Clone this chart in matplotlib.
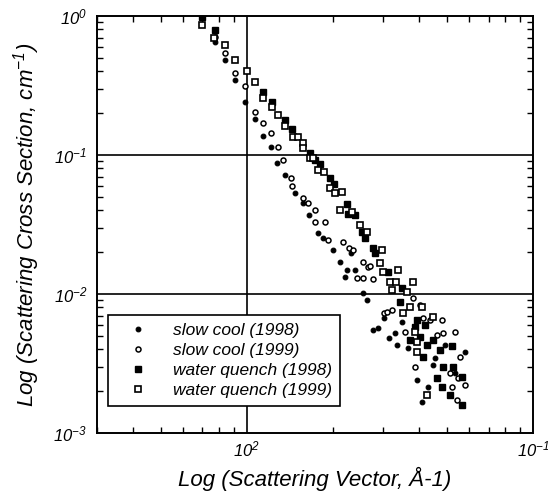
import matplotlib
matplotlib.use('Agg')
from matplotlib import pyplot as plt
from matplotlib.ticker import LogLocator, FixedLocator, NullFormatter

plt.rcParams['font.family'] = ['Liberation Sans', 'DejaVu Sans']
plt.rcParams['font.style'] = 'italic'
plt.rcParams['mathtext.fontset'] = 'custom'
plt.rcParams['mathtext.rm'] = 'Liberation Sans:italic'
plt.rcParams['mathtext.it'] = 'Liberation Sans:italic'

# slow cool (1998) - filled circles
sc98_q = [0.00773, 0.00838, 0.00908, 0.00984, 0.01067, 0.01138, 0.01213, 0.01273,
          0.01358, 0.01472, 0.01570, 0.01647, 0.01771, 0.01844, 0.01999, 0.02115,
          0.0231, 0.0224, 0.02386, 0.02201, 0.0255, 0.0263, 0.0276, 0.0301,
          0.0313, 0.03292, 0.0334, 0.0366, 0.0393, 0.0409, 0.0429, 0.0447,
          0.0513, 0.0565, 0.0578, 0.04543, 0.0492, 0.0534, 0.0348, 0.0287]
sc98_i = [0.650, 0.483, 0.346, 0.241, 0.182, 0.137, 0.114, 0.0876,
          0.0718, 0.0534, 0.0453, 0.0370, 0.0275, 0.0254, 0.0207, 0.0170,
          0.0198, 0.0149, 0.0149, 0.0133, 0.0102, 0.00906, 0.00551, 0.00677,
          0.00482, 0.00525, 0.00430, 0.00410, 0.00240, 0.00167, 0.00214, 0.00308,
          0.00188, 0.00159, 0.00380, 0.00349, 0.0043, 0.0027, 0.0063, 0.0057]

# slow cool (1999) - open circles
sc99_q = [0.00773, 0.00838, 0.00908, 0.00984, 0.01067, 0.01138, 0.01213, 0.01283,
          0.01336, 0.01425, 0.01437, 0.01570, 0.01634, 0.01729, 0.01729, 0.01874,
          0.01919, 0.0217, 0.0227, 0.0236, 0.0255, 0.0265, 0.0243, 0.0255,
          0.0276, 0.02692, 0.0301, 0.0309, 0.0321, 0.0357, 0.0381, 0.0412,
          0.04364, 0.0461, 0.0481, 0.0485, 0.0534, 0.03868, 0.0513, 0.0556,
          0.0547, 0.0521, 0.0543, 0.0578, 0.0403]
sc99_i = [0.706, 0.542, 0.389, 0.313, 0.204, 0.170, 0.144, 0.114,
          0.0920, 0.0684, 0.0597, 0.0493, 0.0453, 0.0402, 0.0330, 0.0330,
          0.0245, 0.0237, 0.0215, 0.0207, 0.0170, 0.0156, 0.0131, 0.0131,
          0.0129, 0.0159, 0.00727, 0.0074, 0.00767, 0.00530, 0.00930, 0.00675,
          0.0065, 0.00507, 0.0065, 0.0052, 0.0053, 0.0030, 0.0027, 0.0035,
          0.0025, 0.00214, 0.00173, 0.0022, 0.0083]

# water quench (1998) - filled squares
wq98_q = [0.00696, 0.00773, 0.01138, 0.01223, 0.01358, 0.01437, 0.01661, 0.01729,
          0.0180, 0.01951, 0.0202, 0.0224, 0.0226, 0.02386, 0.0253, 0.02586,
          0.0276, 0.0280, 0.0311, 0.0348, 0.03428, 0.0393, 0.03868, 0.04027,
          0.0426, 0.0447, 0.0473, 0.0485, 0.0521, 0.0461, 0.0481, 0.0513,
          0.0565, 0.0565, 0.0525, 0.0412, 0.0372, 0.0419]
wq98_i = [0.98, 0.793, 0.284, 0.241, 0.179, 0.154, 0.104, 0.092,
          0.0865, 0.0683, 0.0618, 0.0444, 0.0375, 0.0370, 0.0280, 0.0254,
          0.0215, 0.0198, 0.0145, 0.0111, 0.00873, 0.0065, 0.0058, 0.0049,
          0.0043, 0.00467, 0.00395, 0.00300, 0.0042, 0.0025, 0.00214, 0.00188,
          0.00252, 0.00159, 0.0030, 0.0035, 0.00467, 0.0060]

# water quench (1999) - open squares
wq99_q = [0.00696, 0.00767, 0.00838, 0.00908, 0.0100, 0.01067, 0.01138, 0.01223,
          0.01283, 0.01358, 0.01448, 0.01508, 0.01570, 0.01570, 0.01661, 0.01700,
          0.01771, 0.01859, 0.01951, 0.02031, 0.0215, 0.02115, 0.0233, 0.02484,
          0.0263, 0.0297, 0.02918, 0.0337, 0.0299, 0.03162, 0.0332, 0.0381,
          0.0321, 0.0363, 0.0351, 0.03715, 0.0409, 0.0447, 0.03868, 0.0393,
          0.0393, 0.0426]
wq99_i = [0.862, 0.695, 0.619, 0.483, 0.402, 0.335, 0.257, 0.221,
          0.194, 0.162, 0.135, 0.135, 0.122, 0.112, 0.0952, 0.0952,
          0.0780, 0.0755, 0.0580, 0.0535, 0.0545, 0.0402, 0.0386, 0.0314,
          0.0280, 0.0207, 0.0168, 0.0149, 0.0145, 0.0122, 0.0122, 0.0122,
          0.0107, 0.0103, 0.0073, 0.00801, 0.00801, 0.0068, 0.0053, 0.0045,
          0.0038, 0.00188]

fig = plt.figure(figsize=(5.48, 4.95), dpi=100)
ax = fig.add_axes([0.177, 0.1253, 0.7956, 0.8424])

ax.plot(sc98_q, sc98_i, 'o', ms=3.4, mfc='black', mec='black', mew=0.8,
        ls='none', label='slow cool (1998)')
ax.plot(sc99_q, sc99_i, 'o', ms=3.6, mfc='white', mec='black', mew=1.1,
        ls='none', label='slow cool (1999)')
ax.plot(wq98_q, wq98_i, 's', ms=5, mfc='black', mec='black', mew=1.0,
        ls='none', label='water quench (1998)')
ax.plot(wq99_q, wq99_i, 's', ms=5, mfc='white', mec='black', mew=1.2,
        ls='none', label='water quench (1999)')

ax.set_xscale('log')
ax.set_yscale('log')
ax.set_xlim(0.003, 0.1)
ax.set_ylim(0.001, 1)

# gridlines at the decades
ax.axvline(0.01, color='black', lw=1.2, zorder=0)
for v in [0.1, 0.01]:
    ax.axhline(v, color='black', lw=1.2, zorder=0)

ax.xaxis.set_major_locator(FixedLocator([0.01, 0.1]))
ax.set_xticklabels(['10$^2$', '10$^{-1}$'])
ax.yaxis.set_major_locator(FixedLocator([0.001, 0.01, 0.1, 1]))
ax.set_yticklabels(['10$^{-3}$', '10$^{-2}$', '10$^{-1}$', '10$^0$'])
ax.xaxis.set_minor_locator(LogLocator(base=10, subs=range(2, 10), numticks=20))
ax.yaxis.set_minor_locator(LogLocator(base=10, subs=range(2, 10), numticks=20))
ax.xaxis.set_minor_formatter(NullFormatter())
ax.yaxis.set_minor_formatter(NullFormatter())

ax.tick_params(which='major', direction='in', length=0, labelsize=12)
ax.tick_params(axis='x', which='major', pad=5)
ax.tick_params(axis='y', which='major', pad=7)
ax.tick_params(which='minor', direction='in', length=4, width=1.0,
               top=True, right=True)
for s in ax.spines.values():
    s.set_linewidth(1.4)

ax.set_xlabel('Log (Scattering Vector, Å-1)', fontsize=16, labelpad=5)
ax.set_ylabel('Log (Scattering Cross Section, cm$^{-1}$)', fontsize=16, labelpad=8)

leg = ax.legend(loc='lower left', bbox_to_anchor=(0.025, 0.065), fontsize=12.5,
                frameon=True, fancybox=False, framealpha=1, edgecolor='black',
                borderpad=0.45, labelspacing=0.28, handletextpad=0.7,
                handlelength=2.6, borderaxespad=0)
leg.get_frame().set_linewidth(1.2)

plt.savefig('out.png', dpi=100)
